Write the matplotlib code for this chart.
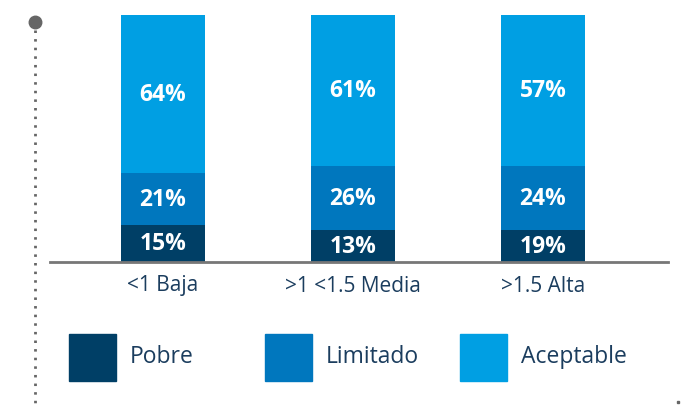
import matplotlib.pyplot as plt
from matplotlib.patches import Rectangle
from matplotlib.lines import Line2D
import numpy as np

plt.rcParams['font.family'] = ['Open Sans', 'DejaVu Sans']

categories = ["<1 Baja", ">1 <1.5 Media", ">1.5 Alta"]
series_names = ["Pobre", "Limitado", "Aceptable"]
# printed labels
pobre_lbl = [15, 13, 19]
limitado_lbl = [21, 26, 24]
aceptable_lbl = [64, 61, 57]
# segment heights as drawn in the picture (third bar drawn like the second)
pobre = [15, 13, 13]
limitado = [21, 26, 26]
aceptable = [64, 61, 61]
colors = ["#003f66", "#0077be", "#009fe3"]
text_color = "#1b3d5e"

W, H = 696, 406
fig = plt.figure(figsize=(W / 100, H / 100), dpi=100)
ax = fig.add_axes([50 / W, (H - 263) / H, 618 / W, 247 / H])

x = np.arange(len(categories))
bottom = np.zeros(len(categories))
for vals, lbls, col in zip([pobre, limitado, aceptable],
                           [pobre_lbl, limitado_lbl, aceptable_lbl], colors):
    ax.bar(x, vals, width=0.442, bottom=bottom, color=col, zorder=2)
    for xi, b, v, l in zip(x, bottom, vals, lbls):
        ax.text(xi, b + v / 2, f"{l}%", ha="center", va="center",
                color="white", fontsize=16.5, fontweight="bold", zorder=3)
    bottom += np.array(vals)

ax.set_xlim(-0.595, 2.658)
ax.set_ylim(0, 100)
for s in ["top", "right", "left"]:
    ax.spines[s].set_visible(False)
ax.spines["bottom"].set_color("#777777")
ax.spines["bottom"].set_linewidth(2)
ax.spines["bottom"].set_zorder(4)
ax.set_yticks([])
ax.set_xticks(x)
ax.set_xticklabels(categories, fontsize=15, color=text_color)
ax.tick_params(axis="x", length=0, pad=9)

# dotted vertical line on the left with a dot on top
fig.add_artist(Line2D([35 / W, 35 / W], [(H - 31) / H, 0], transform=fig.transFigure,
                      color="#666666", linewidth=2, linestyle=(0, (0.9, 2.2))))
fig.add_artist(Line2D([35 / W], [(H - 23) / H], transform=fig.transFigure,
                      marker="o", markersize=9, color="#666666", linestyle="none"))
fig.add_artist(Line2D([678 / W], [(H - 403) / H], transform=fig.transFigure,
                      marker="s", markersize=1.8, color="#666666", linestyle="none"))

# legend
leg_x = [69, 265, 460]
for lx, name, col in zip(leg_x, series_names, colors):
    fig.add_artist(Rectangle((lx / W, (H - 382) / H), 47 / W, 47 / H,
                             transform=fig.transFigure, color=col))
    fig.text((lx + 61) / W, (H - 357) / H, name, fontsize=16.5, color=text_color,
             ha="left", va="center")

fig.savefig("out.png", dpi=100)
